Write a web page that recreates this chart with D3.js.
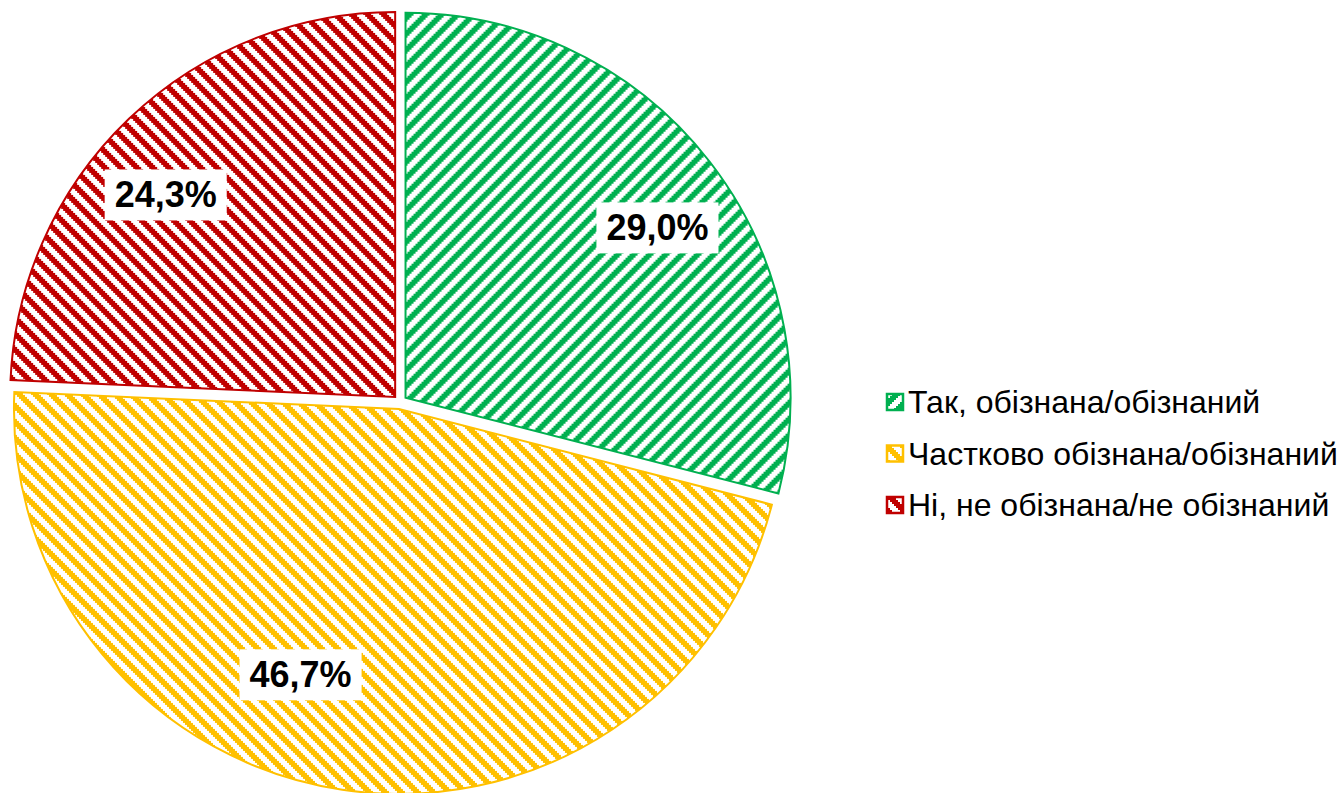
<!DOCTYPE html>
<html>
<head>
<meta charset="utf-8">
<script src="https://cdn.jsdelivr.net/npm/d3@7"></script>
<style>
  html, body { margin: 0; padding: 0; background: #fff; }
  svg { display: block; }
</style>
</head>
<body>
<svg id="chart" width="1343" height="793"></svg>
<script>
const categories = ["Так, обізнана/обізнаний", "Частково обізнана/обізнаний", "Ні, не обізнана/не обізнаний"];
const values = [29.0, 46.7, 24.3];
const valueLabels = ["29,0%", "46,7%", "24,3%"];
const colors = ["#00B050", "#FFC000", "#C00000"];
const stripeDir = ["up", "down", "down"];
// label placement: fraction along slice angle, fraction of radius
const labelAngleFrac = [0.535, 0.569, 0.446];
const labelRadiusFrac = [0.808, 0.753, 0.813];

const svg = d3.select("#chart");
const cx = 400, cy = 402, R = 385, explode = 7;
const cell = 2; // pattern pixel scale

const defs = svg.append("defs");
colors.forEach((c, i) => {
  const p = defs.append("pattern")
    .attr("id", "pat" + i)
    .attr("patternUnits", "userSpaceOnUse")
    .attr("width", 8 * cell).attr("height", 8 * cell);
  p.append("rect").attr("width", 8 * cell).attr("height", 8 * cell).attr("fill", "#fff");
  for (let y = 0; y < 8; y++) {
    for (let x = 0; x < 8; x++) {
      const k = stripeDir[i] === "up" ? ((x + y) % 8) : (((x - y) % 8) + 8) % 8;
      if (k < 4) {
        p.append("rect").attr("x", x * cell).attr("y", y * cell)
          .attr("width", cell).attr("height", cell)
          .attr("fill", c).attr("shape-rendering", "crispEdges");
      }
    }
  }
});

const pie = d3.pie().sort(null).value(d => d);
const arcs = pie(values);
const arc = d3.arc().innerRadius(0).outerRadius(R);

const g = svg.append("g").attr("transform", `translate(${cx},${cy})`);

arcs.forEach((a, i) => {
  const mid = (a.startAngle + a.endAngle) / 2;
  const ox = Math.sin(mid) * explode, oy = -Math.cos(mid) * explode;
  g.append("path")
    .attr("d", arc(a))
    .attr("transform", `translate(${ox},${oy})`)
    .attr("fill", `url(#pat${i})`)
    .attr("stroke", colors[i])
    .attr("stroke-width", 2)
    .attr("stroke-linejoin", "miter");
});

arcs.forEach((a, i) => {
  const ang = a.startAngle + (a.endAngle - a.startAngle) * labelAngleFrac[i];
  const r = R * labelRadiusFrac[i];
  const x = Math.sin(ang) * r, y = -Math.cos(ang) * r;
  const lg = g.append("g").attr("transform", `translate(${x},${y})`);
  const t = lg.append("text")
    .attr("text-anchor", "middle")
    .attr("y", 12.5)
    .attr("font-family", "Liberation Sans, Arial, sans-serif")
    .attr("font-weight", "bold")
    .attr("font-size", 36)
    .attr("fill", "#000")
    .text(valueLabels[i]);
  const w = t.node().getComputedTextLength();
  lg.insert("rect", "text")
    .attr("x", -w / 2 - 10).attr("y", -25)
    .attr("width", w + 20).attr("height", 51)
    .attr("fill", "#fff");
});

const legend = svg.append("g").attr("transform", "translate(886,0)");
categories.forEach((c, i) => {
  const baseY = 413 + i * 51.5;
  legend.append("rect")
    .attr("x", 1).attr("y", baseY - 19)
    .attr("width", 16).attr("height", 16)
    .attr("fill", `url(#pat${i})`)
    .attr("stroke", colors[i]).attr("stroke-width", 2.5);
  legend.append("text")
    .attr("x", 22).attr("y", baseY)
    .attr("font-family", "Liberation Sans, Arial, sans-serif")
    .attr("font-size", 32)
    .attr("fill", "#000")
    .text(c);
});
</script>
</body>
</html>
